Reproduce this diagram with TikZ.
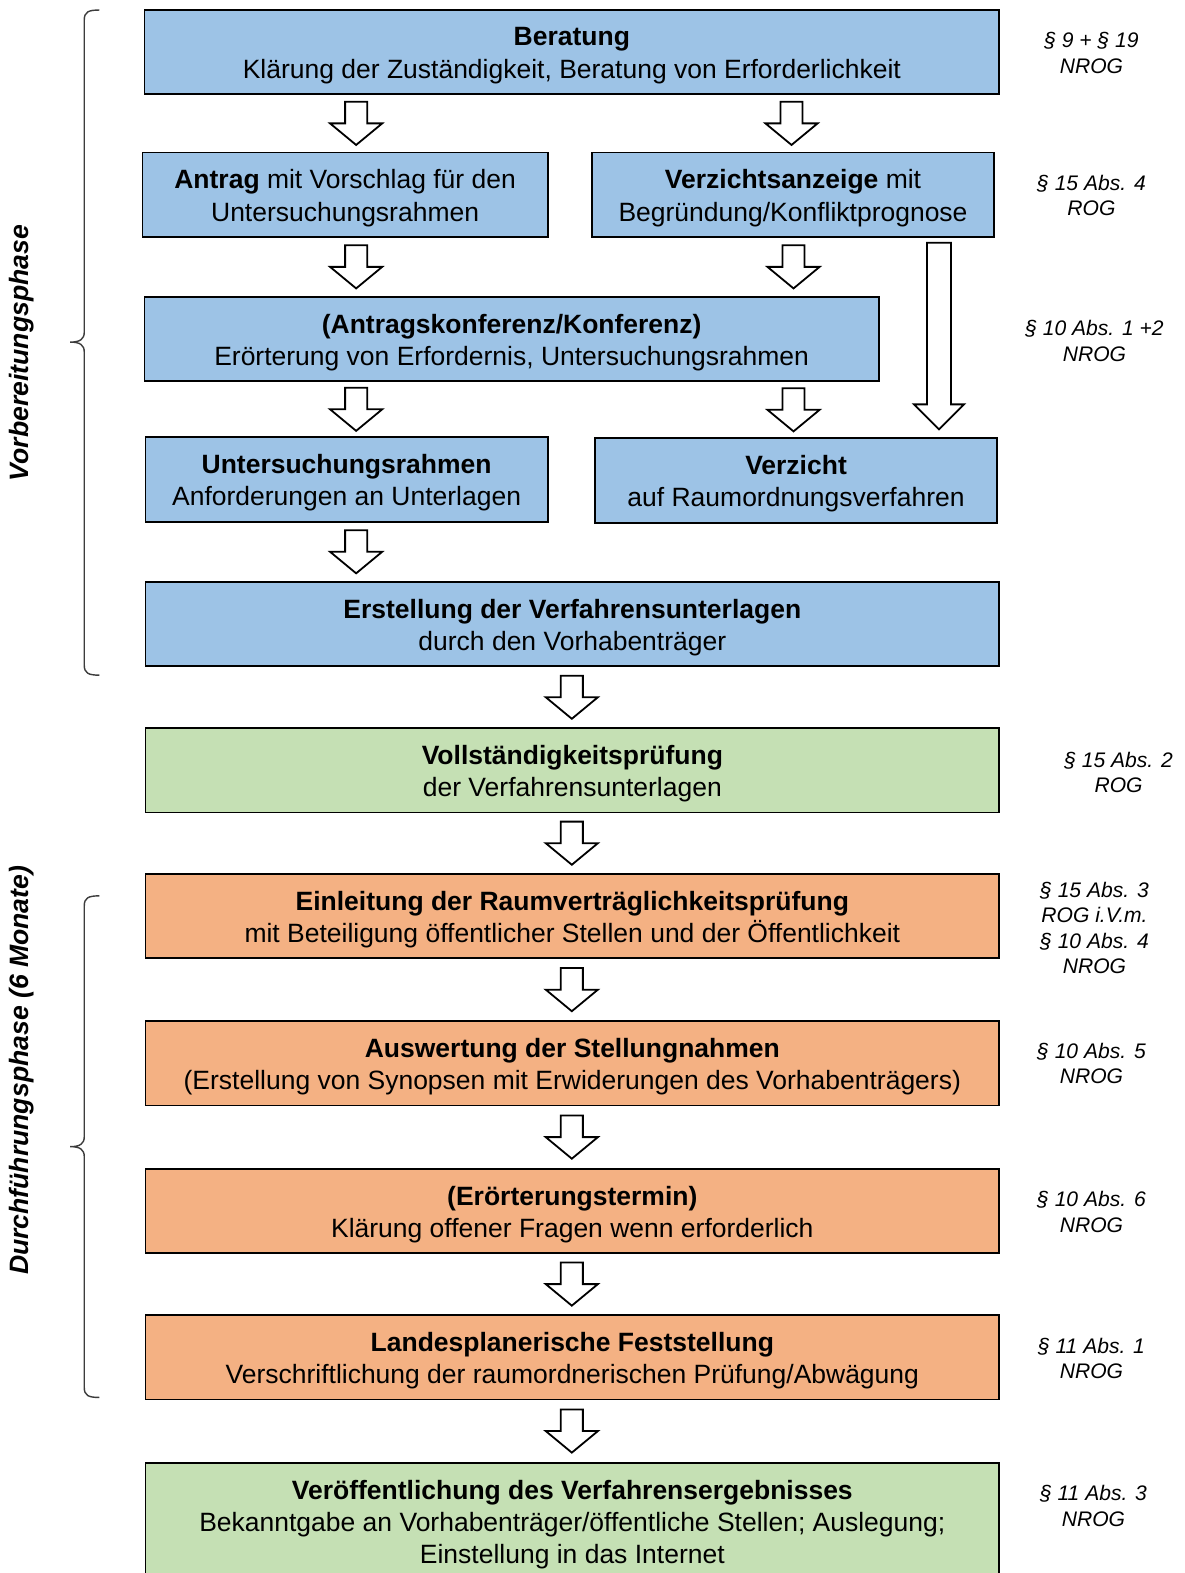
\documentclass[tikz,border=0pt]{standalone}
\usepackage{fontspec}
\setmainfont{Liberation Sans}
\usetikzlibrary{calc}
\definecolor{bbox}{RGB}{157,195,230}
\definecolor{gbox}{RGB}{197,224,180}
\definecolor{obox}{RGB}{244,177,131}
\definecolor{bracecol}{RGB}{60,60,60}
\tikzset{
  box/.style={draw=black, line width=1.8pt, inner sep=0pt, minimum height=84pt},
  boxtxt/.style={align=center, inner sep=0pt, font=\fontsize{26.4}{32}\selectfont},
  lawtxt/.style={align=center, font=\fontsize{21}{25.5}\selectfont\itshape},
  phasetxt/.style={rotate=90, font=\fontsize{26.5}{30}\selectfont\bfseries\itshape},
  arr/.style={draw=black, fill=white, line width=1.8pt, line join=miter},
  bracestyle/.style={draw=bracecol, line width=1.4pt},
}
% name, colour, x, y, width, text
\newcommand\stepbox[6]{%
  \node[box, fill=#2, minimum width=#5pt] (#1) at (#3,#4) {};
  \node[boxtxt] (#1t) at ([yshift=-3.5pt]#1.center) {#6};
}
\newcommand\blockarr[3]{%
  \path (#2.south) -- (#3.north) coordinate[pos=0.5] (mid);
  \coordinate (mx) at (#1,0);
  \coordinate (m) at (mx |- mid);
  \draw[arr, shift={(m)}] (-11,-21.5) -- (11,-21.5) -- (11,0) -- (26,0) -- (0,21.5) -- (-26,0) -- (-11,0) -- cycle;
}
\begin{document}
\begin{tikzpicture}[x=1pt,y=-1pt]
\useasboundingbox (0,0) rectangle (1181,1568);
\fill[white] (0,0) rectangle (1181,1568);

% boxes
\stepbox{b1}{bbox}{570}{52}{852}{\textbf{Beratung}\\Klärung der Zuständigkeit, Beratung von Erforderlichkeit}
\stepbox{b2}{bbox}{344}{194}{404}{\textbf{Antrag} mit Vorschlag für den\\Untersuchungsrahmen}
\stepbox{b3}{bbox}{790.5}{194}{401}{\textbf{Verzichtsanzeige} mit\\Begründung/Konfliktprognose}
\stepbox{b4}{bbox}{510}{338}{732}{\textbf{(Antragskonferenz/Konferenz)}\\Erörterung von Erfordernis, Untersuchungsrahmen}
\stepbox{b5}{bbox}{345.5}{478}{401}{\textbf{Untersuchungsrahmen}\\Anforderungen an Unterlagen}
\stepbox{b6}{bbox}{793.5}{479}{401}{\textbf{Verzicht}\\auf Raumordnungsverfahren}
\stepbox{b7}{bbox}{570.5}{622}{851}{\textbf{Erstellung der Verfahrensunterlagen}\\durch den Vorhabenträger}
\stepbox{b8}{gbox}{570.5}{768}{851}{\textbf{Vollständigkeitsprüfung}\\der Verfahrensunterlagen}
\stepbox{b9}{obox}{570.5}{913}{851}{\textbf{Einleitung der Raumverträglichkeitsprüfung}\\mit Beteiligung öffentlicher Stellen und der Öffentlichkeit}
\stepbox{b10}{obox}{570.5}{1060}{851}{\textbf{Auswertung der Stellungnahmen}\\(Erstellung von Synopsen mit Erwiderungen des Vorhabenträgers)}
\stepbox{b11}{obox}{570.5}{1207}{851}{\textbf{(Erörterungstermin)}\\Klärung offener Fragen wenn erforderlich}
\stepbox{b12}{obox}{570.5}{1353}{851}{\textbf{Landesplanerische Feststellung}\\Verschriftlichung der raumordnerischen Prüfung/Abwägung}
\node[box, fill=gbox, minimum width=851pt, minimum height=118pt] (b13) at (570.5,1517) {};
\node[boxtxt] (b13t) at ([yshift=-3pt]b13.center) {\textbf{Veröffentlichung des Verfahrensergebnisses}\\Bekanntgabe an Vorhabenträger/öffentliche Stellen; Auslegung;\\Einstellung in das Internet};

% block arrows
\blockarr{355}{b1}{b2}
\blockarr{789}{b1}{b3}
\blockarr{355}{b2}{b4}
\blockarr{791}{b3}{b4}
\blockarr{355}{b4}{b5}
\blockarr{791}{b4}{b6}
\blockarr{355}{b5}{b7}
\blockarr{570}{b7}{b8}
\blockarr{570}{b8}{b9}
\blockarr{570}{b9}{b10}
\blockarr{570}{b10}{b11}
\blockarr{570}{b11}{b12}
\blockarr{570}{b12}{b13}
% long arrow
\coordinate (lx) at (936,0);
\coordinate (lt) at (lx |- b3.south);
\coordinate (lb) at (lx |- b6.north);
\draw[arr] ($(lt)+(-12,5)$) -- ($(lt)+(12,5)$) -- ($(lb)+(12,-33)$) -- ($(lb)+(25,-33)$) -- ($(lb)+(0,-8)$) -- ($(lb)+(-25,-33)$) -- ($(lb)+(-12,-33)$) -- cycle;

% braces
\draw[bracestyle] (99,10) .. controls (88,10) and (84,12) .. (84,20) -- (84,331)
  .. controls (84,338) and (80,341) .. (70,341) .. controls (80,341) and (84,344) .. (84,351)
  -- (84,663) .. controls (84,671) and (88,673) .. (99,673);
\draw[bracestyle] (99,893) .. controls (88,893) and (84,895) .. (84,903) -- (84,1133)
  .. controls (84,1140) and (80,1143) .. (70,1143) .. controls (80,1143) and (84,1146) .. (84,1153)
  -- (84,1383) .. controls (84,1391) and (88,1393) .. (99,1393);

% phase labels
\node[phasetxt] (p1) at (22,352) {Vorbereitungsphase};
\node[phasetxt] (p2) at (22,1067) {Durchführungsphase (6 Monate)};

% law references
\node[lawtxt] (l1) at (1088,53) {§ 9 + § 19\\NROG};
\node[lawtxt] (l2) at (1088,195) {§ 15 Abs. 4\\ROG};
\node[lawtxt] (l3) at (1091,340) {§ 10 Abs. 1 +2\\NROG};
\node[lawtxt] (l4) at (1115,770) {§ 15 Abs. 2\\ROG};
\node[lawtxt] (l5) at (1091,925) {§ 15 Abs. 3\\ROG i.V.m.\\§ 10 Abs. 4\\NROG};
\node[lawtxt] (l6) at (1088,1060) {§ 10 Abs. 5\\NROG};
\node[lawtxt] (l7) at (1088,1208) {§ 10 Abs. 6\\NROG};
\node[lawtxt] (l8) at (1088,1354) {§ 11 Abs. 1\\NROG};
\node[lawtxt] (l9) at (1090,1501) {§ 11 Abs. 3\\NROG};
\end{tikzpicture}
\end{document}
